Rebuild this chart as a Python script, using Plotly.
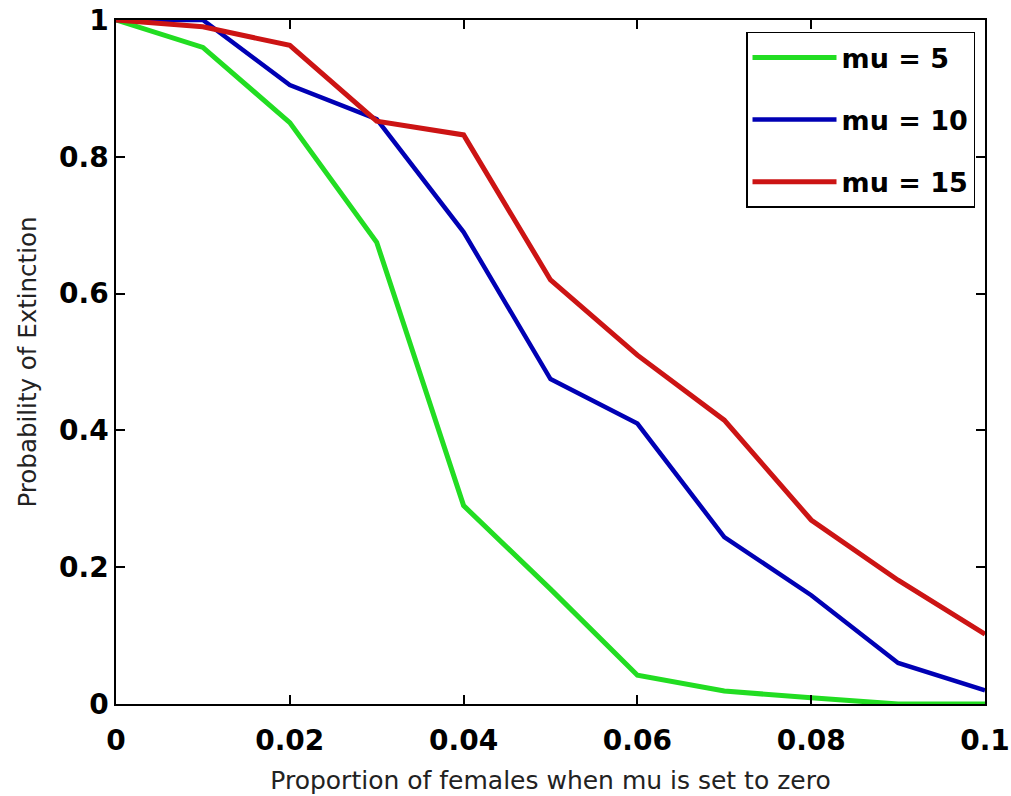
import plotly.graph_objects as go

x_vals = [0, 0.01, 0.02, 0.03, 0.04, 0.05, 0.06, 0.07, 0.08, 0.09, 0.1]
mu5 = [1.0, 0.96, 0.85, 0.675, 0.29, 0.168, 0.042, 0.019, 0.009, 0.0, 0.0]
mu10 = [1.0, 1.0, 0.905, 0.855, 0.69, 0.475, 0.41, 0.244, 0.159, 0.06, 0.02]
mu15 = [1.0, 0.99, 0.963, 0.852, 0.832, 0.62, 0.51, 0.415, 0.269, 0.181, 0.102]
names = ["mu = 5", "mu = 10", "mu = 15"]
colors = ["#22dd22", "#0000b4", "#cc1414"]
widths = [5, 4.5, 5]
x_ticks = [0, 0.02, 0.04, 0.06, 0.08, 0.1]
x_tick_text = ["0", "0.02", "0.04", "0.06", "0.08", "0.1"]
y_ticks = [0, 0.2, 0.4, 0.6, 0.8, 1]
y_tick_text = ["0", "0.2", "0.4", "0.6", "0.8", "1"]

FONT = "DejaVu Sans"

fig = go.Figure()
for ys, nm, c, w in zip([mu5, mu10, mu15], names, colors, widths):
    fig.add_trace(go.Scatter(x=x_vals, y=ys, mode="lines", name=nm,
                             legendgroup=nm,
                             line=dict(color=c, width=w)))

axis_common = dict(showgrid=False, zeroline=False, showline=True, linecolor="black",
                   linewidth=1.5, mirror="ticks", ticks="inside", ticklen=9,
                   tickwidth=1.5, tickcolor="black", automargin=False,
                   ticklabeloverflow="allow",
                   tickfont=dict(family=FONT, size=28, color="black", weight="bold"))

fig.update_layout(
    width=1011, height=796,
    margin=dict(l=116, r=26, t=20, b=92),
    paper_bgcolor="white", plot_bgcolor="white",
    xaxis=dict(range=[0, 0.1], tickvals=x_ticks, ticktext=x_tick_text,
               title=dict(text="Proportion of females when mu is set to zero",
                          font=dict(family=FONT, size=25, color="#222")),
               ticklabelstandoff=11, **axis_common),
    yaxis=dict(range=[0, 1], tickvals=y_ticks, ticktext=y_tick_text,
               title=dict(text="Probability of Extinction",
                          font=dict(family=FONT, size=24.5, color="#222")),
               ticklabelstandoff=0, **axis_common),
    legend=dict(x=0.9885, y=0.9825, xanchor="right", yanchor="top",
                bordercolor="black", borderwidth=1.5, bgcolor="white",
                font=dict(family=FONT, size=27, color="black", weight="bold"),
                tracegroupgap=24, itemwidth=84),
    showlegend=True,
)

# remove the browser's default body margin so the figure fills the window exactly
fig.write_html("out.html", config={"displayModeBar": False},
               post_script="document.body.style.margin='0';document.body.style.overflow='hidden';")
